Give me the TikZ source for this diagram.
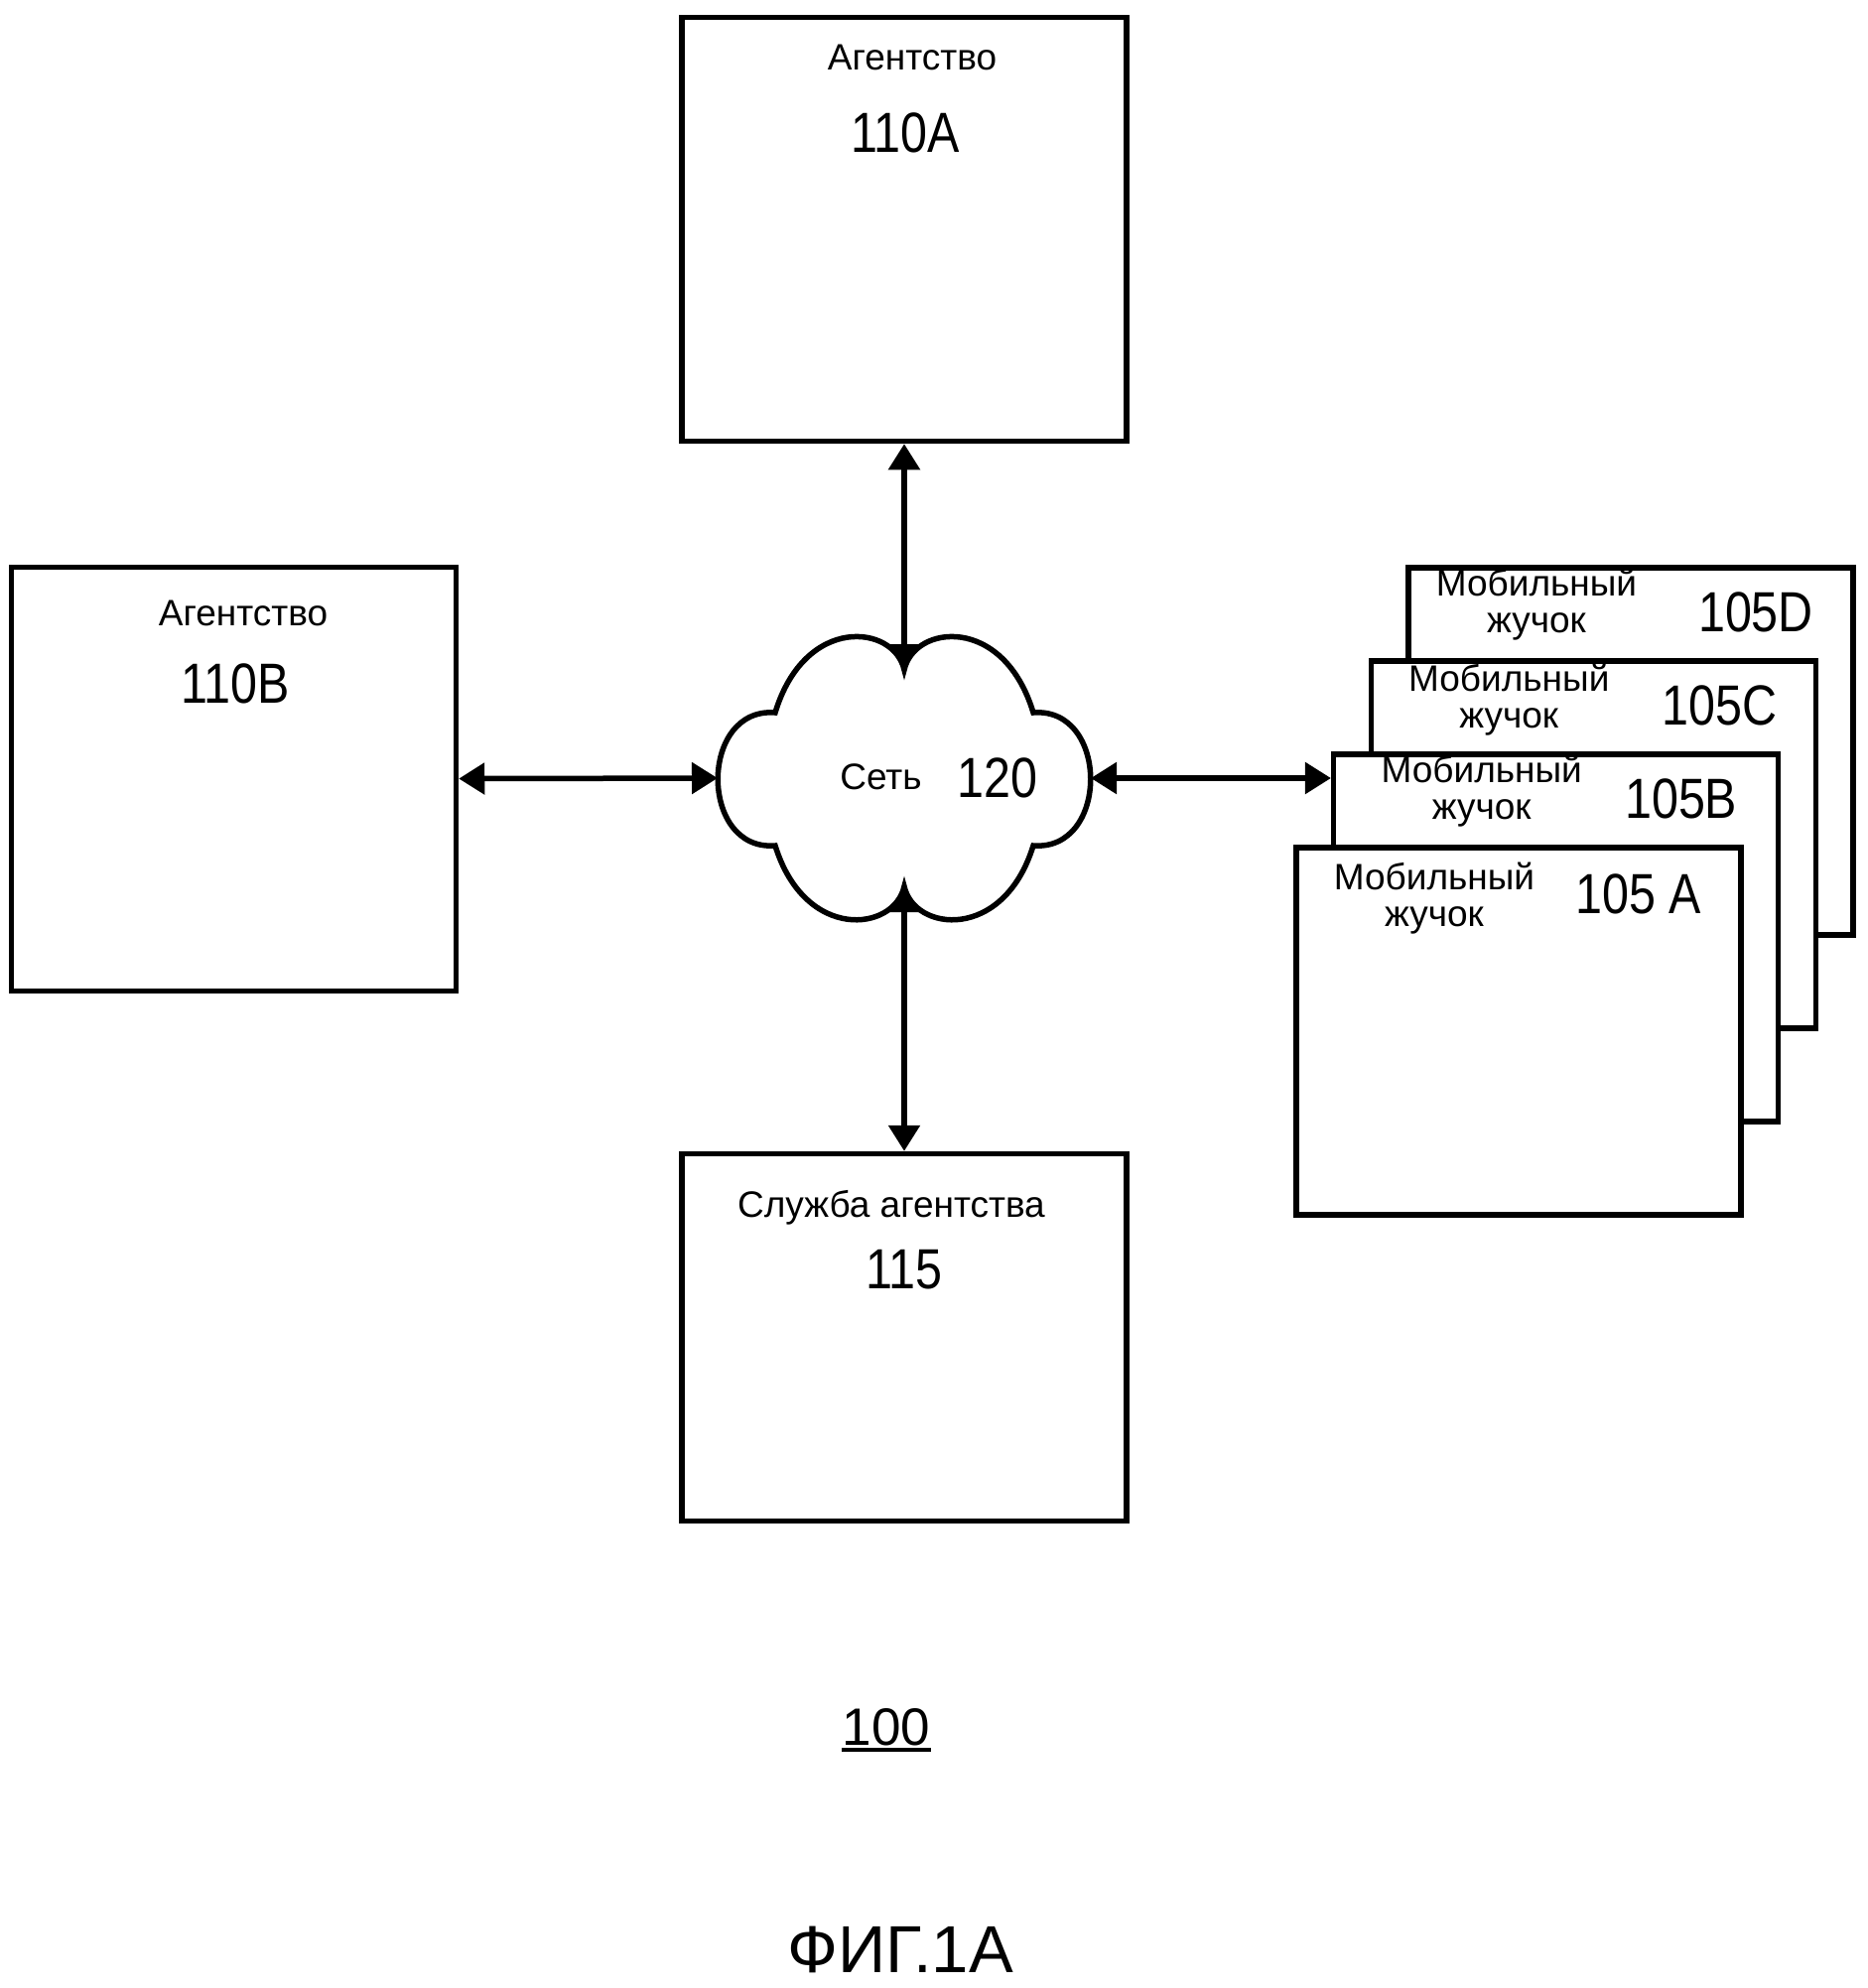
\documentclass[tikz,border=0pt]{standalone}
\usepackage{fontspec}
\setmainfont{Liberation Sans}
\newfontfamily\numfont[FakeStretch=0.85]{Liberation Sans}
\usepackage{tikz}
\usetikzlibrary{arrows.meta}

\begin{document}
\begin{tikzpicture}[
    x=0.5pt, y=-0.5pt,
    box/.style={rectangle, draw=black, line width=2.75pt, fill=white, minimum width=224pt, minimum height=213.5pt},
    mob/.style={box, minimum height=185pt},
    lbl/.style={anchor=base, inner sep=0pt, align=center, font=\fontsize{18.5pt}{18.5pt}\selectfont},
    num/.style={anchor=base, inner sep=0pt, font=\numfont\fontsize{28.5pt}{30pt}\selectfont},
    arrow/.style={{Triangle[length=13pt, width=15.5pt]}-{Triangle[length=13pt, width=15.5pt]}, line width=2.75pt}
]
\useasboundingbox (0,0) rectangle (1881,2003);

\node[box] (agA) at (911,231) {};
\node[box] (agB) at (235.5,785) {};
\node[mob] (svc) at (911,1347.5) {};

\node[lbl] (agAname) at ([shift={(8,55.5)}]agA.north) {Агентство};
\node[num] (agAnum) at ([shift={(1,138.5)}]agA.north) {110A};
\node[lbl] (agBname) at ([shift={(9.5,61.5)}]agB.north) {Агентство};
\node[num] (agBnum) at ([shift={(1.5,139.5)}]agB.north) {110B};
\node[lbl] (svcname) at ([shift={(-13,66.5)}]svc.north) {Служба агентства};
\node[num] (svcnum) at ([shift={(0,138.5)}]svc.north) {115};

\node[mob] (mobD) at (1643,757) {};
\node[lbl] (mobDname) at ([shift={(-95,68)}]mobD.north) {Мобильный\\жучок};
\node[num] (mobDnum) at ([shift={(126,67)}]mobD.north) {105D};
\node[mob] (mobC) at (1605.3,851) {};
\node[lbl] (mobCname) at ([shift={(-85,70)}]mobC.north) {Мобильный\\жучок};
\node[num] (mobCnum) at ([shift={(127,67)}]mobC.north) {105C};
\node[mob] (mobB) at (1567.7,945) {};
\node[lbl] (mobBname) at ([shift={(-75,68)}]mobB.north) {Мобильный\\жучок};
\node[num] (mobBnum) at ([shift={(126,67)}]mobB.north) {105B};
\node[mob] (mobA) at (1530,1039) {};
\node[lbl] (mobAname) at ([shift={(-85,82)}]mobA.north) {Мобильный\\жучок};
\node[num] (mobAnum) at ([shift={(121,69)}]mobA.north) {105 A};

\begin{scope}[shift={(911,784)}]
\draw[line width=2.75pt, fill=white] (0,-109)
    .. controls (-10,-155) and (-100,-165) .. (-130,-66)
    .. controls (-207,-72) and (-207,74) .. (-130,68)
    .. controls (-100,165) and (-10,155) .. (0,109)
    .. controls (10,155) and (100,165) .. (130,68)
    .. controls (207,74) and (207,-72) .. (130,-66)
    .. controls (100,-165) and (10,-155) .. (0,-109) -- cycle;
\coordinate (netT) at (0,-109);
\coordinate (netB) at (0,109);
\coordinate (netL) at (-188,0);
\coordinate (netR) at (188,0);
\node[lbl] (netname) at (-23.5,11) {Сеть};
\node[num] (netnum) at (94,19) {120};
\end{scope}

\draw[arrow] (agA) -- (netT);
\draw[arrow] (agB) -- (netL);
\draw[arrow] (netR) -- (netR -| mobB.west);
\draw[arrow] (netB) -- (svc);

\node[lbl, font=\fontsize{26.5pt}{28pt}\selectfont] (sysnum) at (893,1758) {100};
\draw[line width=2.25pt] ([yshift=-2.5pt]sysnum.base west) -- ([yshift=-2.5pt]sysnum.base east);
\node[lbl, font=\fontsize{33.5pt}{34pt}\selectfont] (figname) at (907,1987) {ФИГ.1А};
\end{tikzpicture}
\end{document}
